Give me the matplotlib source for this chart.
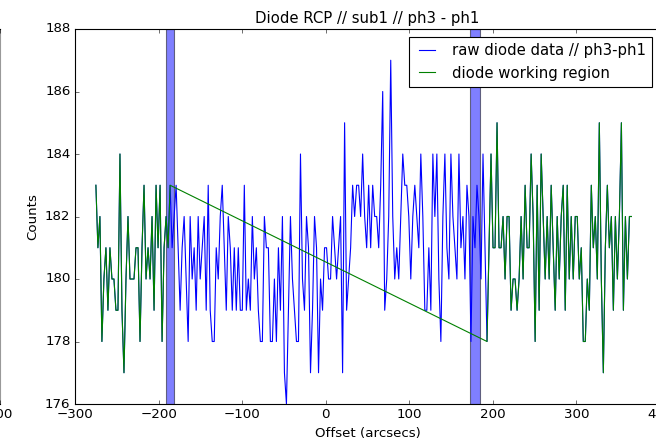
import numpy as np
import matplotlib
matplotlib.use("Agg")
import matplotlib.pyplot as plt

plt.style.use("classic")

# Diode counts (ph3 - ph1), sampled along the scan
x_start = -275.0
x_step = 2.4

counts_left = [183, 181, 182, 178, 180, 181, 179, 181, 180, 180, 179, 179, 184, 179, 177, 180,
               182, 180, 180, 180, 181, 181, 178, 181, 183, 180, 181, 180, 182, 179, 183, 181,
               183, 178, 181, 182, 181, 183]

counts_middle = [181, 182, 183, 181, 179, 181, 182, 180, 178, 182, 180, 181, 179, 182, 180, 181,
                 182, 179, 183, 179, 178, 178, 181, 180, 182, 183, 181, 179, 182, 181, 179, 181,
                 179, 181, 179, 179, 183,
                 179, 180, 179, 182, 180, 181, 179, 178, 178, 182, 181, 181, 178, 178, 180, 178,
                 181, 179, 182, 177, 176, 179, 182, 180, 179, 178, 178, 184, 180, 179, 182, 181,
                 177, 179, 182, 181, 177, 180, 179, 181,
                 181, 180, 180, 182, 181, 180, 181, 182, 177, 185, 179, 180, 181, 183, 182, 183,
                 183, 182, 184, 182, 181, 183, 181, 183, 182, 182, 181, 183, 186, 179, 180, 182,
                 187, 182, 180, 181, 180, 182, 184, 183,
                 183, 182, 180, 182, 183, 182, 181, 184, 182, 179, 179, 181, 179, 184, 182, 184,
                 180, 178, 182, 184, 181, 180, 184, 182, 181, 180, 184, 181, 182, 180, 183, 182,
                 178, 182, 181, 183, 182, 180, 184, 181]

counts_right = [178, 181, 184, 181, 181, 185, 181, 181, 182, 180, 182, 182, 179, 180, 180, 179,
                180, 182, 180, 183, 181, 181, 184, 182, 178, 183, 179, 184, 182, 180, 182, 180,
                183, 181, 179, 182,
                180, 182, 183, 179, 183, 180, 182, 180, 182, 182, 180, 181, 178, 178, 180, 179,
                183, 181, 182, 180, 185, 180, 177, 181, 183, 181, 182, 179, 182, 180, 182, 185,
                179, 182, 180, 182, 182]

# Excluded (non-working) offset ranges
span_ranges = [(-191.0, -182.0), (172.5, 184.5)]

counts = np.array(counts_left + counts_middle + counts_right, dtype=float)
offsets = x_start + x_step * np.arange(len(counts))
n_left = len(counts_left)
n_right = len(counts_right)
working = np.zeros(len(counts), dtype=bool)
working[:n_left] = True
working[len(counts) - n_right:] = True

W, H, DPI = 656, 440, 80
fig = plt.figure(figsize=(W / DPI, H / DPI), dpi=DPI, facecolor="white")

# Neighbouring panel (only its right edge falls inside the figure)
left_px, right_px, top_px, bottom_px = 75, 660, 29, 404
nb = fig.add_axes([-0.9, (H - bottom_px) / H, 0.9 + 0.4 / W, (bottom_px - top_px) / H])
nb.set_xlim(-300, 400)
nb.set_ylim(176, 188)
nb.set_xticks([400])
nb.set_yticks([])
nb.spines["right"].set_edgecolor("0.6")

ax = fig.add_axes([left_px / W, (H - bottom_px) / H, (right_px - left_px) / W,
                   (bottom_px - top_px) / H])
ax.set_facecolor("white")

for lo, hi in span_ranges:
    ax.axvspan(lo, hi, facecolor="b", edgecolor="k", alpha=0.5, linewidth=1)

ax.plot(offsets, counts, color="b", linewidth=1, label="raw diode data // ph3-ph1")
ax.plot(offsets[working], counts[working], color="g", linewidth=1,
        label="diode working region")

ax.set_xlim(-300, 400)
ax.set_ylim(176, 188)
ax.set_xticks(np.arange(-300, 401, 100))
ax.set_yticks(np.arange(176, 189, 2))
ax.set_xlabel("Offset (arcsecs)")
ax.set_ylabel("Counts")
ax.set_title("Diode RCP // sub1 // ph3 - ph1", fontsize=13.4)
ax.legend(loc="upper right", fontsize=13.4, handlelength=1.7, borderaxespad=0.55)

fig.savefig("out.png", dpi=DPI, facecolor="white")
